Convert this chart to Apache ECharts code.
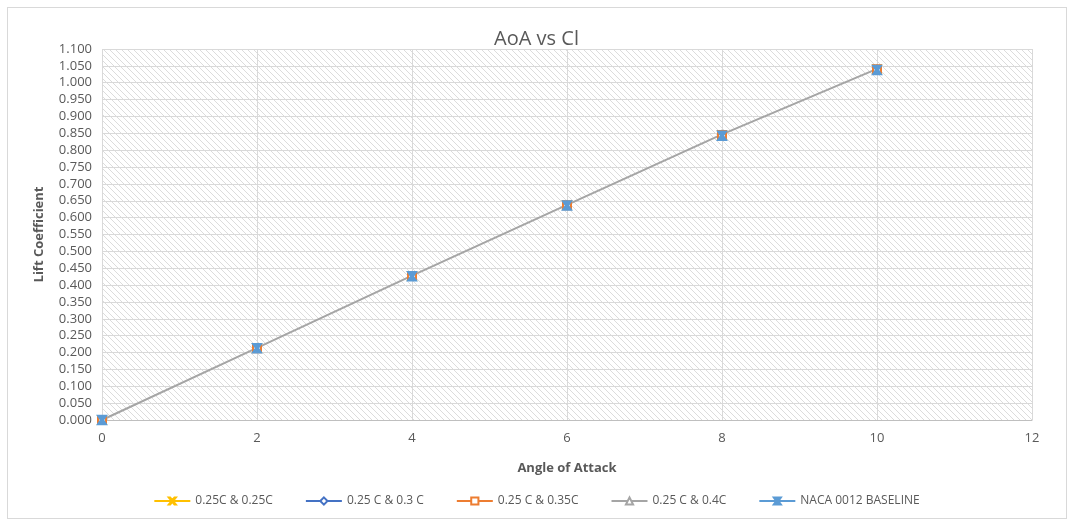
<!DOCTYPE html>
<html>
<head>
<meta charset="utf-8">
<script src="https://cdn.jsdelivr.net/npm/echarts@6/dist/echarts.min.js"></script>
<style>
  html, body { margin: 0; padding: 0; background: #fff; }
  #frame { position: absolute; left: 7px; top: 7px; width: 1058px; height: 510px; border: 1px solid #d9d9d9; }
  #chart { width: 1073px; height: 520px; }
</style>
</head>
<body>
<div id="frame"></div>
<div id="chart"></div>
<script>
  // angle of attack (deg)
  var aoa = [0, 2, 4, 6, 8, 10];
  // lift coefficient per configuration
  var cl025_025 = [0.000, 0.213, 0.427, 0.637, 0.845, 1.040];
  var cl025_030 = [0.000, 0.213, 0.427, 0.637, 0.845, 1.040];
  var cl025_035 = [0.000, 0.213, 0.427, 0.637, 0.845, 1.040];
  var cl025_040 = [0.000, 0.214, 0.428, 0.638, 0.847, 1.041];
  var clBaseline = [0.000, 0.213, 0.426, 0.636, 0.843, 1.038];
  var seriesNames = ['0.25C & 0.25C', '0.25 C & 0.3 C', '0.25 C & 0.35C', '0.25 C & 0.4C', 'NACA 0012 BASELINE'];
  var seriesColors = ['#FFC000', '#4472C4', '#ED7D31', '#A5A5A5', '#5B9BD5'];

  function pairs(ys) {
    return aoa.map(function (x, i) { return [x, ys[i]]; });
  }

  // diagonal hatch for the plot area
  var hatch = document.createElement('canvas');
  hatch.width = 6; hatch.height = 6;
  var hc = hatch.getContext('2d');
  hc.fillStyle = '#ffffff';
  hc.fillRect(0, 0, 6, 6);
  hc.strokeStyle = '#dcdcdc';
  hc.lineWidth = 1;
  hc.beginPath();
  hc.moveTo(-1, -1); hc.lineTo(7, 7);
  hc.moveTo(-4, 2); hc.lineTo(4, 10);
  hc.moveTo(2, -4); hc.lineTo(10, 4);
  hc.stroke();

  var font = 'Open Sans, Liberation Sans, sans-serif';
  var chart = echarts.init(document.getElementById('chart'));

  // lineOpacity 0 keeps the overlapping lines under the grey one; legend restores them
  function mk(name, data, color, symbol, size, z, lineOpacity) {
    return {
      name: name,
      type: 'line',
      data: pairs(data),
      symbol: symbol,
      symbolSize: size,
      z: z,
      itemStyle: { color: color, borderColor: color, borderWidth: 1.5 },
      lineStyle: { color: color, width: 2, opacity: lineOpacity },
      emphasis: { disabled: true },
      animation: false
    };
  }

  var xPath = 'path://M0,0 L2,0 L5,3 L8,0 L10,0 L6,4 L10,8 L8,8 L5,5 L2,8 L0,8 L4,4 Z';
  var starPath = 'path://M0,0 L3,0 L5,3 L7,0 L10,0 L6.5,4 L10,8 L7,8 L5,5 L3,8 L0,8 L3.5,4 Z M4,0 L6,0 L6,8 L4,8 Z';

  chart.setOption({
    backgroundColor: 'transparent',
    title: {
      text: 'AoA vs Cl',
      left: 'center',
      top: 24,
      textStyle: { fontFamily: font, fontSize: 20, fontWeight: 'normal', color: '#595959' }
    },
    grid: {
      left: 102, right: 41, top: 49, bottom: 100,
      show: true,
      borderWidth: 0,
      backgroundColor: { image: hatch, repeat: 'repeat' }
    },
    legend: {
      bottom: 8,
      left: 'center',
      itemWidth: 36,
      itemHeight: 9,
      itemGap: 32,
      data: seriesNames.map(function (n, i) {
        return { name: n, lineStyle: { color: seriesColors[i], opacity: 1, width: 2 } };
      }),
      textStyle: { fontFamily: font, fontSize: 12, color: '#595959' }
    },
    xAxis: {
      type: 'value',
      min: 0, max: 12, interval: 2,
      name: 'Angle of Attack',
      nameLocation: 'middle',
      nameGap: 42,
      nameTextStyle: { fontFamily: font, fontSize: 13, fontWeight: 'bold', color: '#595959' },
      axisLine: { show: true, lineStyle: { color: '#bfbfbf' } },
      axisTick: { show: false },
      axisLabel: { fontFamily: font, fontSize: 13, color: '#595959', margin: 12 },
      splitLine: { show: true, lineStyle: { color: '#d9d9d9', width: 1 } }
    },
    yAxis: {
      type: 'value',
      min: 0, max: 1.1, interval: 0.05,
      name: 'Lift Coefficient',
      nameLocation: 'middle',
      nameGap: 56,
      nameTextStyle: { fontFamily: font, fontSize: 13, fontWeight: 'bold', color: '#595959' },
      axisLine: { show: false },
      axisTick: { show: false },
      axisLabel: {
        fontFamily: font, fontSize: 13, color: '#595959', margin: 10,
        formatter: function (v) { return v.toFixed(3); }
      },
      splitLine: { show: true, lineStyle: { color: '#d9d9d9', width: 1 } }
    },
    series: [
      mk(seriesNames[0], cl025_025, seriesColors[0], xPath, 8, 2, 0),
      mk(seriesNames[1], cl025_030, seriesColors[1], 'emptyDiamond', 7, 2, 0),
      mk(seriesNames[3], cl025_040, seriesColors[3], 'emptyTriangle', 6, 2, 1),
      mk(seriesNames[2], cl025_035, seriesColors[2], 'emptyRect', 8, 3, 0),
      mk(seriesNames[4], clBaseline, seriesColors[4], starPath, 9, 4, 0)
    ]
  });
</script>
</body>
</html>
